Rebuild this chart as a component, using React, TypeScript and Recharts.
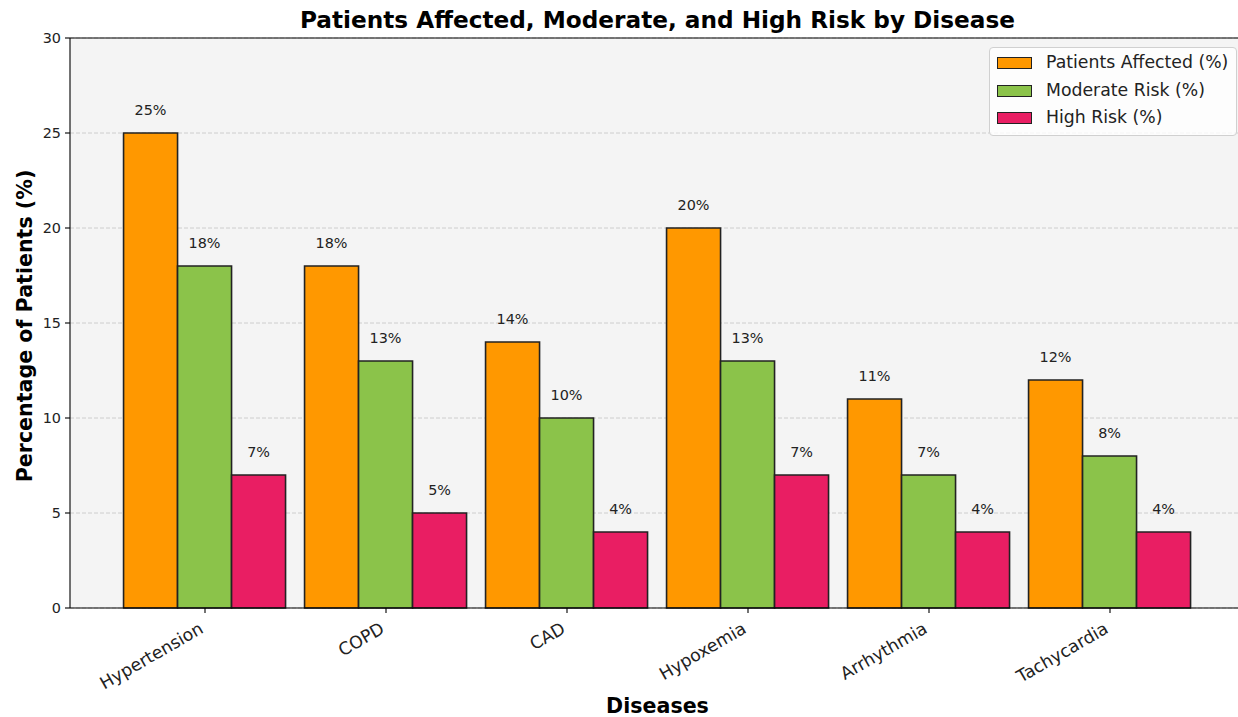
import React from "react";
import {
  BarChart,
  Bar,
  XAxis,
  YAxis,
  CartesianGrid,
  Legend,
  LabelList,
  Label,
  ReferenceLine,
} from "recharts";

const diseases = ["Hypertension", "COPD", "CAD", "Hypoxemia", "Arrhythmia", "Tachycardia"];
const patientsAffected = [25, 18, 14, 20, 11, 12];
const moderateRisk = [18, 13, 10, 13, 7, 8];
const highRisk = [7, 5, 4, 7, 4, 4];
const yTicks = [0, 5, 10, 15, 20, 25, 30];

const seriesNames = ["Patients Affected (%)", "Moderate Risk (%)", "High Risk (%)"];
const seriesColors = ["#FF9800", "#8BC34A", "#E91E63"];

const data = diseases.map((d, i) => ({
  name: d,
  patients: patientsAffected[i],
  moderate: moderateRisk[i],
  high: highRisk[i],
}));

const FONT = "'DejaVu Sans', sans-serif";

const ValueLabel = (props: any) => {
  const { x, y, width, value } = props;
  return (
    <text
      x={Number(x) + Number(width) / 2}
      y={Number(y) - 18.5}
      textAnchor="middle"
      fontSize={14.4}
      fontFamily={FONT}
      fill="#222"
    >
      {`${value}%`}
    </text>
  );
};

const XTick = (props: any) => {
  const { x, y, payload } = props;
  const px = Number(x) - 0.5;
  const py = Number(y) + 17;
  return (
    <text
      x={px}
      y={py}
      textAnchor="end"
      fontSize={17.3}
      fontFamily={FONT}
      fill="#222"
      transform={`rotate(-30, ${px}, ${py})`}
    >
      {payload.value}
    </text>
  );
};

const LegendContent = () => (
  <div
    style={{
      position: "relative",
      width: 248,
      height: 89,
      background: "rgba(255,255,255,0.8)",
      border: "1px solid #d0d0d0",
      borderRadius: 4,
      boxSizing: "border-box",
      fontFamily: FONT,
      fontSize: 17.3,
      color: "#222",
    }}
  >
    {seriesNames.map((n, i) => (
      <div key={n}>
        <div
          style={{
            position: "absolute",
            left: 7,
            top: 9 + i * 27.5,
            width: 35,
            height: 12,
            background: seriesColors[i],
            border: "1.4px solid #222",
            boxSizing: "border-box",
          }}
        />
        <div
          style={{
            position: "absolute",
            left: 56,
            top: 3 + i * 27.5,
            lineHeight: "22px",
            whiteSpace: "nowrap",
          }}
        >
          {n}
        </div>
      </div>
    ))}
  </div>
);

export default function App() {
  return (
    <div
      style={{
        position: "absolute",
        left: 0,
        top: 0,
        width: 1238,
        height: 717,
        overflow: "hidden",
        background: "#fff",
      }}
    >
      <div
        style={{
          position: "absolute",
          left: 0,
          width: 1315,
          top: 6,
          textAlign: "center",
          fontFamily: FONT,
          fontWeight: "bold",
          fontSize: 23.2,
          color: "#000",
          whiteSpace: "nowrap",
          lineHeight: "27px",
        }}
      >
        Patients Affected, Moderate, and High Risk by Disease
      </div>
      <BarChart
        width={1265}
        height={717}
        data={data}
        margin={{ top: 38, right: 20, bottom: 0, left: 0 }}
        barCategoryGap="5%"
        barGap={0}
        style={{ position: "absolute", left: 0, top: 0 }}
      >
        <CartesianGrid
          vertical={false}
          fill="#f4f4f4"
          stroke="#c4c4c4"
          strokeDasharray="4 2"
          strokeWidth={0.8}
        />
        <XAxis
          dataKey="name"
          height={109}
          padding={{ left: 44.5, right: 44.5 }}
          axisLine={{ stroke: "#000", strokeWidth: 1.1 }}
          tickLine={{ stroke: "#000", strokeWidth: 1.1 }}
          tickSize={5}
          tick={<XTick />}
          interval={0}
        >
          <Label
            content={(p: any) => (
              <text
                x={657.5}
                y={713}
                textAnchor="middle"
                fontSize={20.6}
                fontWeight="bold"
                fontFamily={FONT}
                fill="#000"
              >
                Diseases
              </text>
            )}
          />
        </XAxis>
        <YAxis
          width={70}
          domain={[0, 30]}
          ticks={yTicks}
          interval={0}
          axisLine={{ stroke: "#000", strokeWidth: 1.1 }}
          tickLine={{ stroke: "#000", strokeWidth: 1.1 }}
          tickSize={5}
          tickMargin={4}
          tick={{ fontSize: 14.4, fontFamily: FONT, fill: "#222" }}
        >
          <Label
            content={(p: any) => (
              <text
                x={32}
                y={326}
                textAnchor="middle"
                fontSize={20.6}
                fontWeight="bold"
                fontFamily={FONT}
                fill="#000"
                transform="rotate(-90, 32, 326)"
              >
                Percentage of Patients (%)
              </text>
            )}
          />
        </YAxis>
        <ReferenceLine y={30} stroke="#000" strokeWidth={1.1} />
        <Legend
          layout="vertical"
          align="center"
          verticalAlign="middle"
          content={<LegendContent />}
          wrapperStyle={{ position: "absolute", left: 989, top: 47, width: 248, height: 89 }}
        />
        <Bar dataKey="patients" name={seriesNames[0]} fill={seriesColors[0]} stroke="#222" strokeWidth={1.6} isAnimationActive={false}>
          <LabelList dataKey="patients" content={<ValueLabel />} />
        </Bar>
        <Bar dataKey="moderate" name={seriesNames[1]} fill={seriesColors[1]} stroke="#222" strokeWidth={1.6} isAnimationActive={false}>
          <LabelList dataKey="moderate" content={<ValueLabel />} />
        </Bar>
        <Bar dataKey="high" name={seriesNames[2]} fill={seriesColors[2]} stroke="#222" strokeWidth={1.6} isAnimationActive={false}>
          <LabelList dataKey="high" content={<ValueLabel />} />
        </Bar>
      </BarChart>
    </div>
  );
}
